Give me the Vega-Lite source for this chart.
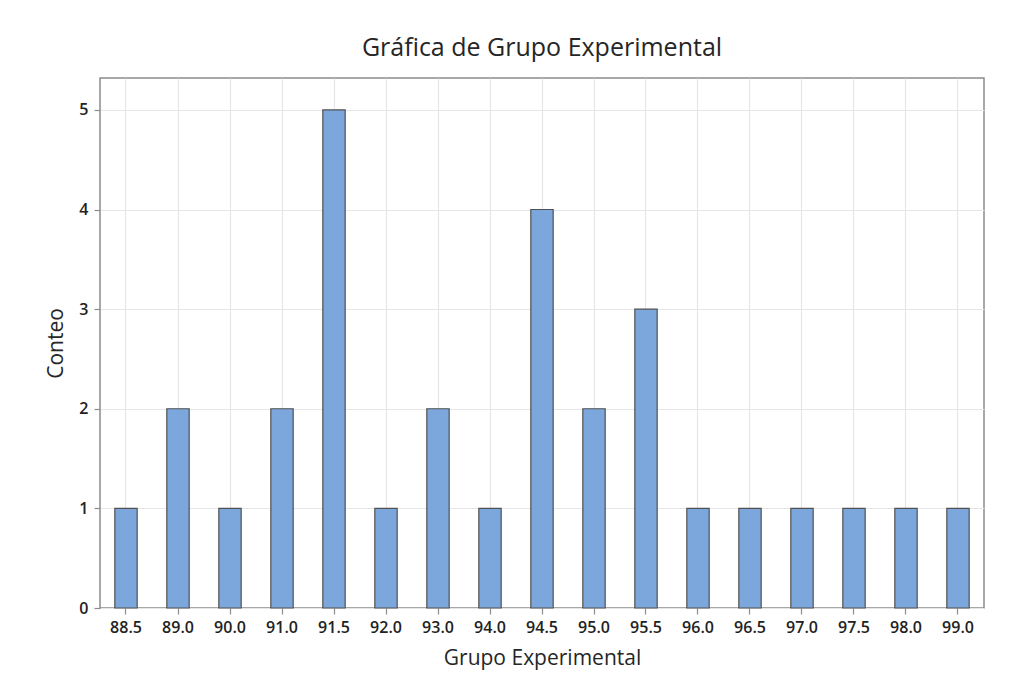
{
  "$schema": "https://vega.github.io/schema/vega-lite/v6.json",
  "width": 884,
  "height": 530,
  "autosize": "none",
  "padding": {"left": 100, "top": 78, "right": 34, "bottom": 82},
  "background": "white",
  "title": {
    "text": "Gráfica de Grupo Experimental",
    "font": "Open Sans",
    "fontSize": 25,
    "fontWeight": "normal",
    "color": "#262626",
    "offset": 17,
    "anchor": "middle"
  },
  "config": {
    "view": {"stroke": "#8c8c8c", "strokeWidth": 1.5},
    "font": "Open Sans"
  },
  "data": {
    "values": [
      {"grupo": "88.5", "conteo": 1},
      {"grupo": "89.0", "conteo": 2},
      {"grupo": "90.0", "conteo": 1},
      {"grupo": "91.0", "conteo": 2},
      {"grupo": "91.5", "conteo": 5},
      {"grupo": "92.0", "conteo": 1},
      {"grupo": "93.0", "conteo": 2},
      {"grupo": "94.0", "conteo": 1},
      {"grupo": "94.5", "conteo": 4},
      {"grupo": "95.0", "conteo": 2},
      {"grupo": "95.5", "conteo": 3},
      {"grupo": "96.0", "conteo": 1},
      {"grupo": "96.5", "conteo": 1},
      {"grupo": "97.0", "conteo": 1},
      {"grupo": "97.5", "conteo": 1},
      {"grupo": "98.0", "conteo": 1},
      {"grupo": "99.0", "conteo": 1}
    ]
  },
  "mark": {"type": "bar", "fill": "#7ba7dc", "stroke": "#505050", "strokeWidth": 1.2},
  "encoding": {
    "x": {
      "field": "grupo",
      "type": "ordinal",
      "sort": null,
      "scale": {"paddingInner": 0.57, "paddingOuter": 0.285},
      "axis": {
        "title": "Grupo Experimental",
        "titleFont": "Open Sans",
        "titleFontSize": 21,
        "titleFontWeight": "normal",
        "titleColor": "#262626",
        "titlePadding": 12,
        "labelAngle": 0,
        "labelFont": "Open Sans",
        "labelFontSize": 16,
        "labelFontWeight": 600,
        "labelColor": "#222",
        "labelPadding": 5,
        "domain": false,
        "grid": true,
        "gridColor": "#e6e6e6",
        "gridWidth": 1.2,
        "tickColor": "#8c8c8c",
        "tickSize": 6,
        "tickWidth": 1.2
      }
    },
    "y": {
      "field": "conteo",
      "type": "quantitative",
      "scale": {"domain": [0, 5.32], "nice": false},
      "axis": {
        "title": "Conteo",
        "titleFont": "Open Sans",
        "titleFontSize": 21,
        "titleFontWeight": "normal",
        "titleColor": "#262626",
        "titlePadding": 12,
        "values": [0, 1, 2, 3, 4, 5],
        "labelFont": "Open Sans",
        "labelFontSize": 16,
        "labelFontWeight": 600,
        "labelColor": "#222",
        "labelPadding": 6,
        "domain": false,
        "grid": true,
        "gridColor": "#e6e6e6",
        "gridWidth": 1.2,
        "tickColor": "#8c8c8c",
        "tickSize": 6,
        "tickWidth": 1.2
      }
    }
  }
}
